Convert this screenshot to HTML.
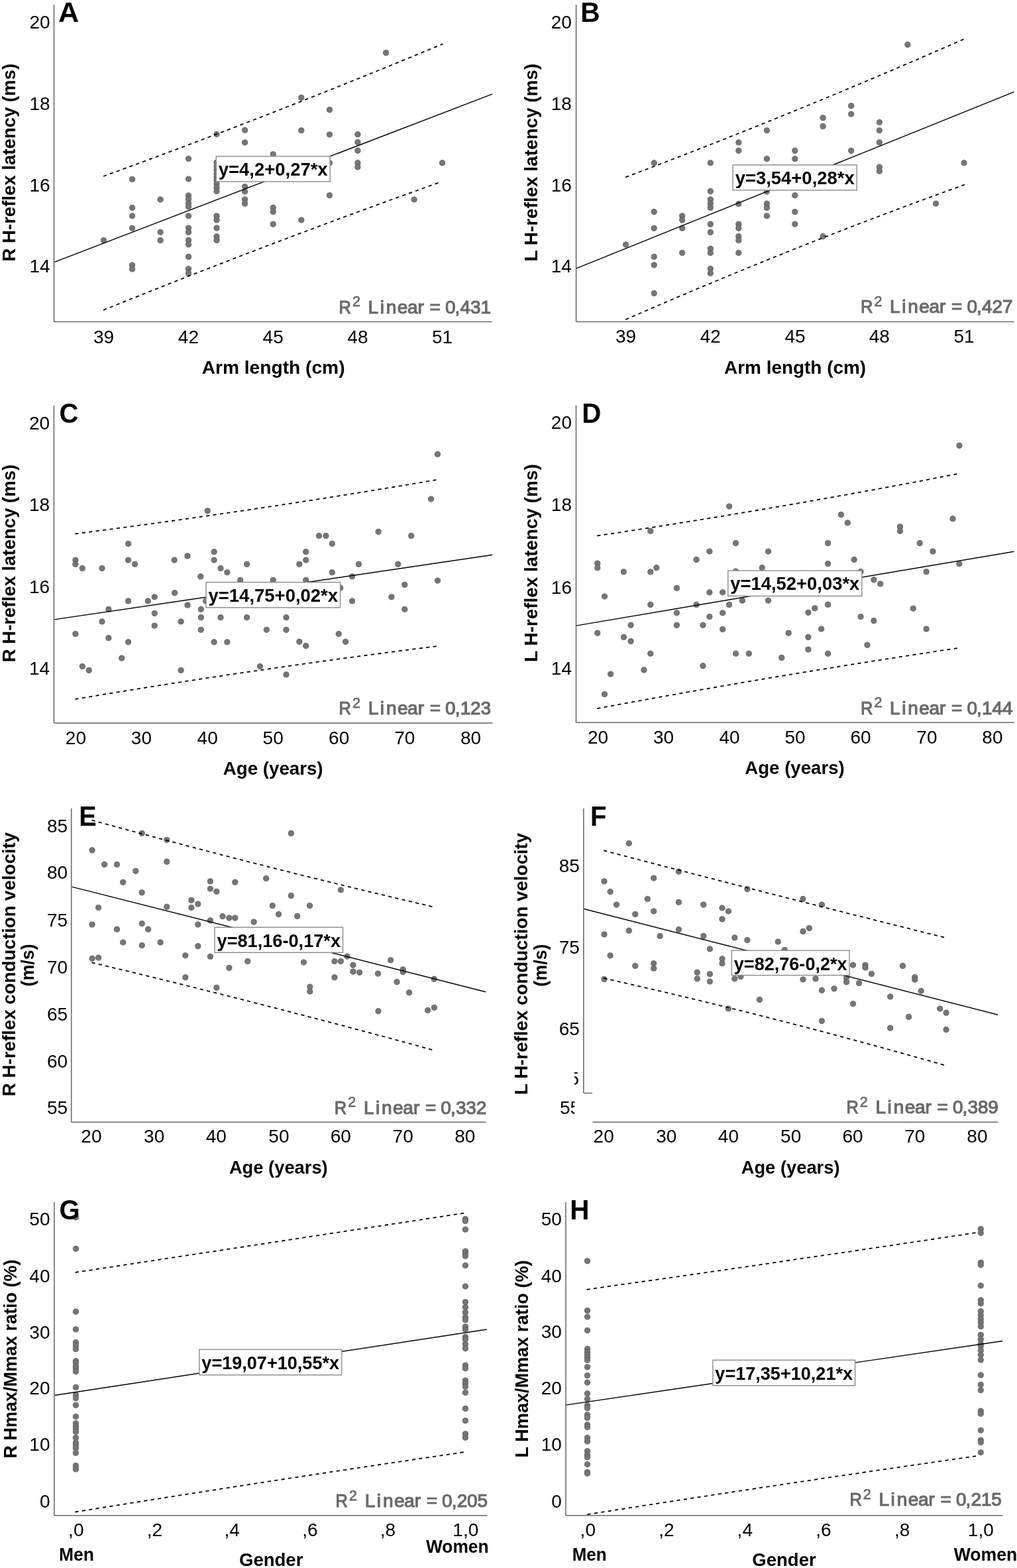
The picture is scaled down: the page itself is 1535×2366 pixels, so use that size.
<!DOCTYPE html>
<html><head><meta charset="utf-8"><title>H-reflex regression plots</title>
<style>html,body{margin:0;padding:0;background:#fff;}svg{display:block}</style></head>
<body>
<svg width="1535" height="2366" viewBox="0 0 1535 2366" font-family="'Liberation Sans', Arial, sans-serif" fill="#000">
<rect width="1535" height="2366" fill="#fff"/>
<g id="pA">
<g fill="#767676" stroke="#5c5c5c" stroke-width="0.9">
<circle cx="156.5" cy="362.7" r="4.1"/>
<circle cx="199.6" cy="270.5" r="4.1"/>
<circle cx="199.6" cy="313.4" r="4.1"/>
<circle cx="199.6" cy="325.8" r="4.1"/>
<circle cx="199.6" cy="344.3" r="4.1"/>
<circle cx="199.6" cy="400.0" r="4.1"/>
<circle cx="199.6" cy="406.0" r="4.1"/>
<circle cx="242.1" cy="301.0" r="4.1"/>
<circle cx="242.1" cy="350.3" r="4.1"/>
<circle cx="242.1" cy="362.7" r="4.1"/>
<circle cx="284.5" cy="239.6" r="4.1"/>
<circle cx="284.5" cy="270.1" r="4.1"/>
<circle cx="284.5" cy="295.0" r="4.1"/>
<circle cx="284.5" cy="300.6" r="4.1"/>
<circle cx="284.5" cy="306.7" r="4.1"/>
<circle cx="284.5" cy="311.9" r="4.1"/>
<circle cx="284.5" cy="325.9" r="4.1"/>
<circle cx="284.5" cy="344.0" r="4.1"/>
<circle cx="284.5" cy="350.4" r="4.1"/>
<circle cx="284.5" cy="362.5" r="4.1"/>
<circle cx="284.5" cy="368.9" r="4.1"/>
<circle cx="284.5" cy="387.4" r="4.1"/>
<circle cx="284.5" cy="405.8" r="4.1"/>
<circle cx="284.5" cy="412.2" r="4.1"/>
<circle cx="327.0" cy="202.5" r="4.1"/>
<circle cx="327.0" cy="245.3" r="4.1"/>
<circle cx="327.0" cy="251.0" r="4.1"/>
<circle cx="327.0" cy="256.5" r="4.1"/>
<circle cx="327.0" cy="262.0" r="4.1"/>
<circle cx="327.0" cy="267.0" r="4.1"/>
<circle cx="327.0" cy="272.0" r="4.1"/>
<circle cx="327.0" cy="277.4" r="4.1"/>
<circle cx="327.0" cy="283.0" r="4.1"/>
<circle cx="327.0" cy="288.6" r="4.1"/>
<circle cx="327.0" cy="325.9" r="4.1"/>
<circle cx="327.0" cy="332.0" r="4.1"/>
<circle cx="327.0" cy="344.0" r="4.1"/>
<circle cx="327.0" cy="356.8" r="4.1"/>
<circle cx="327.0" cy="362.5" r="4.1"/>
<circle cx="369.6" cy="196.3" r="4.1"/>
<circle cx="369.6" cy="215.0" r="4.1"/>
<circle cx="369.6" cy="281.7" r="4.1"/>
<circle cx="369.6" cy="289.0" r="4.1"/>
<circle cx="369.6" cy="301.0" r="4.1"/>
<circle cx="369.6" cy="307.3" r="4.1"/>
<circle cx="412.2" cy="232.8" r="4.1"/>
<circle cx="412.2" cy="313.4" r="4.1"/>
<circle cx="412.2" cy="319.6" r="4.1"/>
<circle cx="412.2" cy="338.2" r="4.1"/>
<circle cx="454.8" cy="147.3" r="4.1"/>
<circle cx="454.8" cy="196.8" r="4.1"/>
<circle cx="454.8" cy="332.0" r="4.1"/>
<circle cx="497.4" cy="165.6" r="4.1"/>
<circle cx="497.4" cy="203.0" r="4.1"/>
<circle cx="497.4" cy="245.8" r="4.1"/>
<circle cx="497.4" cy="294.8" r="4.1"/>
<circle cx="539.9" cy="202.8" r="4.1"/>
<circle cx="539.9" cy="214.6" r="4.1"/>
<circle cx="539.9" cy="227.3" r="4.1"/>
<circle cx="539.9" cy="245.8" r="4.1"/>
<circle cx="539.9" cy="252.0" r="4.1"/>
<circle cx="582.5" cy="79.7" r="4.1"/>
<circle cx="625.1" cy="301.0" r="4.1"/>
<circle cx="667.5" cy="245.8" r="4.1"/>
</g>
<path d="M81.7,395.6 L743.2,141.9" stroke="#000" stroke-width="1.45" fill="none"/>
<path d="M156.0,266.0 Q412.2,172.9 668.4,66.3" stroke="#000" stroke-width="1.8" fill="none" stroke-dasharray="5.2 5.3"/>
<path d="M156.0,467.9 Q409.4,365.5 662.7,275.5" stroke="#000" stroke-width="1.8" fill="none" stroke-dasharray="5.2 5.3"/>
<path d="M81.5,6.9 L81.5,485.5" stroke="#676767" stroke-width="1.55" fill="none"/>
<path d="M81.5,485.5 L742.8,485.5" stroke="#676767" stroke-width="1.55" fill="none"/>
<text x="75.6" y="42.7" text-anchor="end" font-size="28.0">20</text>
<text x="75.6" y="165.6" text-anchor="end" font-size="28.0">18</text>
<text x="75.6" y="289.1" text-anchor="end" font-size="28.0">16</text>
<text x="75.6" y="411.1" text-anchor="end" font-size="28.0">14</text>
<text x="156.5" y="517.8" text-anchor="middle" font-size="28.0">39</text>
<text x="284.4" y="517.8" text-anchor="middle" font-size="28.0">42</text>
<text x="412.2" y="517.8" text-anchor="middle" font-size="28.0">45</text>
<text x="539.9" y="517.8" text-anchor="middle" font-size="28.0">48</text>
<text x="667.5" y="517.8" text-anchor="middle" font-size="28.0">51</text>
<text x="412.6" y="564.0" text-anchor="middle" font-size="27.7" font-weight="bold" textLength="215.9" lengthAdjust="spacingAndGlyphs">Arm length (cm)</text>
<text transform="translate(23.4,245.2) rotate(-90)" x="0" y="0" text-anchor="middle" font-size="27.7" font-weight="bold" textLength="298.6" lengthAdjust="spacingAndGlyphs">R H-reflex latency (ms)</text>
<text transform="translate(88.00,32.70) scale(1.01,1)" font-size="42.8" font-weight="bold">A</text>
<rect x="326.3" y="235.9" width="171.9" height="38.1" fill="#fff" stroke="#8a8a8a" stroke-width="1.4"/>
<text x="412.2" y="265.2" text-anchor="middle" font-size="27.5" font-weight="bold" textLength="164.9" lengthAdjust="spacingAndGlyphs">y=4,2+0,27*x</text>
<g fill="#6a6a6a" stroke="#6a6a6a" stroke-width="1.15">
<text transform="translate(511.50,472.90) scale(0.9,1)" font-size="28.3">R</text>
<text x="531.9" y="462.3" font-size="21.5" stroke-width="0.75">2</text>
<text x="555.6 573.7 582.8 599.8 615.0 630.6 648.6" y="472.90" font-size="28">Linear=</text>
<text x="672.0 686.6 694.6 710.0 725.4" y="472.90" font-size="28">0,431</text>
</g>
</g>
<g id="pB">
<g fill="#767676" stroke="#5c5c5c" stroke-width="0.9">
<circle cx="944.6" cy="369.1" r="4.1"/>
<circle cx="987.2" cy="245.8" r="4.1"/>
<circle cx="987.2" cy="319.6" r="4.1"/>
<circle cx="987.2" cy="344.3" r="4.1"/>
<circle cx="987.2" cy="387.4" r="4.1"/>
<circle cx="987.2" cy="399.8" r="4.1"/>
<circle cx="987.2" cy="442.6" r="4.1"/>
<circle cx="1029.7" cy="325.8" r="4.1"/>
<circle cx="1029.7" cy="332.0" r="4.1"/>
<circle cx="1029.7" cy="344.3" r="4.1"/>
<circle cx="1029.7" cy="381.5" r="4.1"/>
<circle cx="1072.3" cy="245.8" r="4.1"/>
<circle cx="1072.3" cy="288.6" r="4.1"/>
<circle cx="1072.3" cy="301.0" r="4.1"/>
<circle cx="1072.3" cy="307.2" r="4.1"/>
<circle cx="1072.3" cy="313.4" r="4.1"/>
<circle cx="1072.3" cy="338.2" r="4.1"/>
<circle cx="1072.3" cy="350.5" r="4.1"/>
<circle cx="1072.3" cy="375.3" r="4.1"/>
<circle cx="1072.3" cy="381.5" r="4.1"/>
<circle cx="1072.3" cy="405.5" r="4.1"/>
<circle cx="1072.3" cy="412.2" r="4.1"/>
<circle cx="1114.8" cy="214.9" r="4.1"/>
<circle cx="1114.8" cy="227.3" r="4.1"/>
<circle cx="1114.8" cy="307.7" r="4.1"/>
<circle cx="1114.8" cy="338.2" r="4.1"/>
<circle cx="1114.8" cy="344.3" r="4.1"/>
<circle cx="1114.8" cy="356.7" r="4.1"/>
<circle cx="1114.8" cy="362.7" r="4.1"/>
<circle cx="1114.8" cy="381.5" r="4.1"/>
<circle cx="1157.4" cy="196.8" r="4.1"/>
<circle cx="1157.4" cy="239.7" r="4.1"/>
<circle cx="1157.4" cy="289.1" r="4.1"/>
<circle cx="1157.4" cy="307.2" r="4.1"/>
<circle cx="1157.4" cy="313.4" r="4.1"/>
<circle cx="1157.4" cy="325.8" r="4.1"/>
<circle cx="1199.8" cy="227.3" r="4.1"/>
<circle cx="1199.8" cy="239.7" r="4.1"/>
<circle cx="1199.8" cy="294.8" r="4.1"/>
<circle cx="1199.8" cy="319.6" r="4.1"/>
<circle cx="1199.8" cy="338.2" r="4.1"/>
<circle cx="1242.1" cy="177.8" r="4.1"/>
<circle cx="1242.1" cy="190.6" r="4.1"/>
<circle cx="1242.1" cy="356.7" r="4.1"/>
<circle cx="1284.7" cy="159.7" r="4.1"/>
<circle cx="1284.7" cy="172.1" r="4.1"/>
<circle cx="1284.7" cy="227.3" r="4.1"/>
<circle cx="1327.3" cy="184.5" r="4.1"/>
<circle cx="1327.3" cy="196.8" r="4.1"/>
<circle cx="1327.3" cy="214.9" r="4.1"/>
<circle cx="1327.3" cy="252.0" r="4.1"/>
<circle cx="1327.3" cy="258.2" r="4.1"/>
<circle cx="1369.9" cy="67.3" r="4.1"/>
<circle cx="1412.5" cy="307.2" r="4.1"/>
<circle cx="1455.1" cy="245.8" r="4.1"/>
</g>
<path d="M869.6,405.1 L1530.6,138.6" stroke="#000" stroke-width="1.45" fill="none"/>
<path d="M944.2,267.4 Q1199.7,171.1 1455.1,58.9" stroke="#000" stroke-width="1.8" fill="none" stroke-dasharray="5.2 5.3"/>
<path d="M944.2,482.2 Q1200.0,370.5 1455.8,278.7" stroke="#000" stroke-width="1.8" fill="none" stroke-dasharray="5.2 5.3"/>
<path d="M869.6,6.9 L869.6,485.4" stroke="#676767" stroke-width="1.55" fill="none"/>
<path d="M869.6,485.4 L1530.6,485.4" stroke="#676767" stroke-width="1.55" fill="none"/>
<text x="862.9" y="43.3" text-anchor="end" font-size="28.0">20</text>
<text x="862.9" y="165.9" text-anchor="end" font-size="28.0">18</text>
<text x="862.9" y="288.7" text-anchor="end" font-size="28.0">16</text>
<text x="862.9" y="411.1" text-anchor="end" font-size="28.0">14</text>
<text x="944.6" y="517.4" text-anchor="middle" font-size="28.0">39</text>
<text x="1072.3" y="517.4" text-anchor="middle" font-size="28.0">42</text>
<text x="1200.0" y="517.4" text-anchor="middle" font-size="28.0">45</text>
<text x="1327.3" y="517.4" text-anchor="middle" font-size="28.0">48</text>
<text x="1455.1" y="517.4" text-anchor="middle" font-size="28.0">51</text>
<text x="1200.1" y="563.8" text-anchor="middle" font-size="27.7" font-weight="bold" textLength="214.1" lengthAdjust="spacingAndGlyphs">Arm length (cm)</text>
<text transform="translate(811.3,245.2) rotate(-90)" x="0" y="0" text-anchor="middle" font-size="27.7" font-weight="bold" textLength="298.6" lengthAdjust="spacingAndGlyphs">L H-reflex latency (ms)</text>
<text transform="translate(876.25,32.70) scale(0.95,1)" font-size="42.8" font-weight="bold">B</text>
<rect x="1106.1" y="248.9" width="187.1" height="38.1" fill="#fff" stroke="#8a8a8a" stroke-width="1.4"/>
<text x="1199.7" y="278.2" text-anchor="middle" font-size="27.5" font-weight="bold" textLength="180.1" lengthAdjust="spacingAndGlyphs">y=3,54+0,28*x</text>
<g fill="#6a6a6a" stroke="#6a6a6a" stroke-width="1.15">
<text transform="translate(1299.00,472.10) scale(0.9,1)" font-size="28.3">R</text>
<text x="1319.4" y="461.5" font-size="21.5" stroke-width="0.75">2</text>
<text x="1343.1 1361.2 1370.3 1387.3 1402.5 1418.1 1436.1" y="472.10" font-size="28">Linear=</text>
<text x="1459.5 1474.1 1482.1 1497.5 1512.9" y="472.10" font-size="28">0,427</text>
</g>
</g>
<g id="pC">
<g fill="#767676" stroke="#5c5c5c" stroke-width="0.9">
<circle cx="660.5" cy="685.4" r="4.1"/>
<circle cx="650.6" cy="753.0" r="4.1"/>
<circle cx="313.2" cy="770.8" r="4.1"/>
<circle cx="481.5" cy="808.5" r="4.1"/>
<circle cx="491.9" cy="808.5" r="4.1"/>
<circle cx="571.1" cy="802.3" r="4.1"/>
<circle cx="620.7" cy="808.5" r="4.1"/>
<circle cx="193.6" cy="820.4" r="4.1"/>
<circle cx="501.3" cy="820.4" r="4.1"/>
<circle cx="323.1" cy="832.7" r="4.1"/>
<circle cx="461.7" cy="832.7" r="4.1"/>
<circle cx="283.0" cy="838.9" r="4.1"/>
<circle cx="113.9" cy="845.1" r="4.1"/>
<circle cx="193.6" cy="845.1" r="4.1"/>
<circle cx="263.2" cy="845.1" r="4.1"/>
<circle cx="323.1" cy="845.1" r="4.1"/>
<circle cx="461.7" cy="845.1" r="4.1"/>
<circle cx="113.9" cy="851.3" r="4.1"/>
<circle cx="203.5" cy="851.3" r="4.1"/>
<circle cx="372.6" cy="851.3" r="4.1"/>
<circle cx="451.8" cy="851.3" r="4.1"/>
<circle cx="541.4" cy="851.3" r="4.1"/>
<circle cx="600.8" cy="851.3" r="4.1"/>
<circle cx="124.3" cy="857.5" r="4.1"/>
<circle cx="154.0" cy="857.5" r="4.1"/>
<circle cx="333.0" cy="857.5" r="4.1"/>
<circle cx="342.9" cy="863.7" r="4.1"/>
<circle cx="501.3" cy="863.7" r="4.1"/>
<circle cx="302.8" cy="869.9" r="4.1"/>
<circle cx="531.5" cy="869.9" r="4.1"/>
<circle cx="362.7" cy="875.3" r="4.1"/>
<circle cx="412.2" cy="875.3" r="4.1"/>
<circle cx="461.7" cy="875.3" r="4.1"/>
<circle cx="660.5" cy="876.1" r="4.1"/>
<circle cx="610.8" cy="882.3" r="4.1"/>
<circle cx="513.7" cy="887.1" r="4.1"/>
<circle cx="263.7" cy="894.6" r="4.1"/>
<circle cx="233.2" cy="900.8" r="4.1"/>
<circle cx="590.9" cy="900.8" r="4.1"/>
<circle cx="193.6" cy="906.9" r="4.1"/>
<circle cx="223.3" cy="906.9" r="4.1"/>
<circle cx="310.7" cy="906.9" r="4.1"/>
<circle cx="531.5" cy="906.9" r="4.1"/>
<circle cx="283.0" cy="913.1" r="4.1"/>
<circle cx="163.9" cy="919.3" r="4.1"/>
<circle cx="303.3" cy="919.3" r="4.1"/>
<circle cx="610.8" cy="919.3" r="4.1"/>
<circle cx="233.2" cy="925.5" r="4.1"/>
<circle cx="303.3" cy="931.7" r="4.1"/>
<circle cx="333.0" cy="931.7" r="4.1"/>
<circle cx="372.6" cy="931.7" r="4.1"/>
<circle cx="432.0" cy="931.7" r="4.1"/>
<circle cx="154.0" cy="937.9" r="4.1"/>
<circle cx="273.1" cy="937.9" r="4.1"/>
<circle cx="233.2" cy="944.1" r="4.1"/>
<circle cx="303.3" cy="950.3" r="4.1"/>
<circle cx="402.3" cy="950.3" r="4.1"/>
<circle cx="432.0" cy="950.3" r="4.1"/>
<circle cx="113.9" cy="956.5" r="4.1"/>
<circle cx="511.2" cy="956.5" r="4.1"/>
<circle cx="163.9" cy="962.7" r="4.1"/>
<circle cx="193.6" cy="968.8" r="4.1"/>
<circle cx="323.1" cy="968.8" r="4.1"/>
<circle cx="342.9" cy="968.8" r="4.1"/>
<circle cx="451.8" cy="968.3" r="4.1"/>
<circle cx="521.6" cy="968.3" r="4.1"/>
<circle cx="461.7" cy="974.5" r="4.1"/>
<circle cx="183.7" cy="993.1" r="4.1"/>
<circle cx="124.3" cy="1005.5" r="4.1"/>
<circle cx="392.4" cy="1005.5" r="4.1"/>
<circle cx="134.2" cy="1011.4" r="4.1"/>
<circle cx="273.1" cy="1011.4" r="4.1"/>
<circle cx="432.0" cy="1017.9" r="4.1"/>
</g>
<path d="M81.7,934.9 L743.2,837.2" stroke="#000" stroke-width="1.45" fill="none"/>
<path d="M113.4,805.5 Q386.6,770.5 659.8,723.8" stroke="#000" stroke-width="1.8" fill="none" stroke-dasharray="5.2 5.3"/>
<path d="M113.4,1055.0 Q386.6,1009.1 659.8,975.0" stroke="#000" stroke-width="1.8" fill="none" stroke-dasharray="5.2 5.3"/>
<path d="M81.4,612.0 L81.4,1091.0" stroke="#676767" stroke-width="1.55" fill="none"/>
<path d="M81.4,1091.0 L743.2,1091.0" stroke="#676767" stroke-width="1.55" fill="none"/>
<text x="75.1" y="647.9" text-anchor="end" font-size="28.0">20</text>
<text x="75.1" y="770.9" text-anchor="end" font-size="28.0">18</text>
<text x="75.1" y="895.4" text-anchor="end" font-size="28.0">16</text>
<text x="75.1" y="1018.4" text-anchor="end" font-size="28.0">14</text>
<text x="114.4" y="1122.8" text-anchor="middle" font-size="28.0">20</text>
<text x="213.4" y="1122.8" text-anchor="middle" font-size="28.0">30</text>
<text x="313.2" y="1122.8" text-anchor="middle" font-size="28.0">40</text>
<text x="412.2" y="1122.8" text-anchor="middle" font-size="28.0">50</text>
<text x="511.7" y="1122.8" text-anchor="middle" font-size="28.0">60</text>
<text x="610.8" y="1122.8" text-anchor="middle" font-size="28.0">70</text>
<text x="710.5" y="1122.8" text-anchor="middle" font-size="28.0">80</text>
<text x="412.2" y="1168.5" text-anchor="middle" font-size="27.7" font-weight="bold" textLength="150.8" lengthAdjust="spacingAndGlyphs">Age (years)</text>
<text transform="translate(23.4,850.0) rotate(-90)" x="0" y="0" text-anchor="middle" font-size="27.7" font-weight="bold" textLength="298.6" lengthAdjust="spacingAndGlyphs">R H-reflex latency (ms)</text>
<text transform="translate(89.40,638.20) scale(0.935,1)" font-size="42.8" font-weight="bold">C</text>
<rect x="311.0" y="878.6" width="202.6" height="38.2" fill="#fff" stroke="#8a8a8a" stroke-width="1.4"/>
<text x="412.3" y="907.9" text-anchor="middle" font-size="27.5" font-weight="bold" textLength="195.6" lengthAdjust="spacingAndGlyphs">y=14,75+0,02*x</text>
<g fill="#6a6a6a" stroke="#6a6a6a" stroke-width="1.15">
<text transform="translate(511.60,1078.10) scale(0.9,1)" font-size="28.3">R</text>
<text x="532.0" y="1067.5" font-size="21.5" stroke-width="0.75">2</text>
<text x="555.7 573.8 582.9 599.9 615.1 630.7 648.7" y="1078.10" font-size="28">Linear=</text>
<text x="672.1 686.7 694.7 710.1 725.5" y="1078.10" font-size="28">0,123</text>
</g>
</g>
<g id="pD">
<g fill="#767676" stroke="#5c5c5c" stroke-width="0.9">
<circle cx="1447.9" cy="672.3" r="4.1"/>
<circle cx="1100.6" cy="764.1" r="4.1"/>
<circle cx="1269.4" cy="776.5" r="4.1"/>
<circle cx="1438.0" cy="782.7" r="4.1"/>
<circle cx="1279.3" cy="788.9" r="4.1"/>
<circle cx="1358.5" cy="794.8" r="4.1"/>
<circle cx="981.8" cy="801.3" r="4.1"/>
<circle cx="1358.5" cy="801.3" r="4.1"/>
<circle cx="1110.5" cy="819.6" r="4.1"/>
<circle cx="1249.6" cy="819.6" r="4.1"/>
<circle cx="1388.2" cy="819.6" r="4.1"/>
<circle cx="1070.9" cy="832.0" r="4.1"/>
<circle cx="1159.5" cy="832.0" r="4.1"/>
<circle cx="1408.0" cy="832.0" r="4.1"/>
<circle cx="1051.1" cy="844.4" r="4.1"/>
<circle cx="1289.2" cy="844.4" r="4.1"/>
<circle cx="901.8" cy="850.1" r="4.1"/>
<circle cx="1249.6" cy="850.6" r="4.1"/>
<circle cx="1447.9" cy="850.6" r="4.1"/>
<circle cx="901.8" cy="856.7" r="4.1"/>
<circle cx="990.9" cy="856.7" r="4.1"/>
<circle cx="1150.2" cy="856.6" r="4.1"/>
<circle cx="941.4" cy="862.9" r="4.1"/>
<circle cx="981.8" cy="862.9" r="4.1"/>
<circle cx="1110.5" cy="862.0" r="4.1"/>
<circle cx="1299.1" cy="862.5" r="4.1"/>
<circle cx="1398.1" cy="862.7" r="4.1"/>
<circle cx="1318.9" cy="874.8" r="4.1"/>
<circle cx="1328.8" cy="881.0" r="4.1"/>
<circle cx="1021.4" cy="887.4" r="4.1"/>
<circle cx="1070.9" cy="893.8" r="4.1"/>
<circle cx="1090.7" cy="893.8" r="4.1"/>
<circle cx="912.5" cy="900.0" r="4.1"/>
<circle cx="1120.4" cy="906.2" r="4.1"/>
<circle cx="1159.5" cy="906.2" r="4.1"/>
<circle cx="981.8" cy="912.4" r="4.1"/>
<circle cx="1051.1" cy="912.4" r="4.1"/>
<circle cx="1100.6" cy="912.4" r="4.1"/>
<circle cx="1249.6" cy="912.2" r="4.1"/>
<circle cx="1229.8" cy="917.8" r="4.1"/>
<circle cx="1378.3" cy="918.1" r="4.1"/>
<circle cx="1219.9" cy="924.3" r="4.1"/>
<circle cx="1021.4" cy="924.8" r="4.1"/>
<circle cx="1090.7" cy="924.8" r="4.1"/>
<circle cx="1070.9" cy="930.5" r="4.1"/>
<circle cx="1299.1" cy="930.5" r="4.1"/>
<circle cx="1318.9" cy="936.7" r="4.1"/>
<circle cx="952.1" cy="943.3" r="4.1"/>
<circle cx="1021.4" cy="943.3" r="4.1"/>
<circle cx="1061.0" cy="943.3" r="4.1"/>
<circle cx="1239.7" cy="949.0" r="4.1"/>
<circle cx="1398.1" cy="949.0" r="4.1"/>
<circle cx="1090.7" cy="949.5" r="4.1"/>
<circle cx="901.8" cy="955.2" r="4.1"/>
<circle cx="1190.2" cy="955.2" r="4.1"/>
<circle cx="941.4" cy="961.4" r="4.1"/>
<circle cx="1219.9" cy="961.4" r="4.1"/>
<circle cx="952.1" cy="967.6" r="4.1"/>
<circle cx="1309.0" cy="973.3" r="4.1"/>
<circle cx="1219.9" cy="980.0" r="4.1"/>
<circle cx="981.8" cy="986.2" r="4.1"/>
<circle cx="1110.5" cy="986.2" r="4.1"/>
<circle cx="1130.3" cy="986.2" r="4.1"/>
<circle cx="1249.6" cy="986.2" r="4.1"/>
<circle cx="1179.8" cy="992.4" r="4.1"/>
<circle cx="1061.0" cy="1004.7" r="4.1"/>
<circle cx="971.9" cy="1010.9" r="4.1"/>
<circle cx="921.6" cy="1017.1" r="4.1"/>
<circle cx="912.5" cy="1047.6" r="4.1"/>
</g>
<path d="M869.6,944.1 L1530.6,832.2" stroke="#000" stroke-width="1.45" fill="none"/>
<path d="M901.3,808.5 Q1173.2,767.8 1445.2,715.1" stroke="#000" stroke-width="1.8" fill="none" stroke-dasharray="5.2 5.3"/>
<path d="M901.3,1069.1 Q1173.2,1018.6 1445.2,978.0" stroke="#000" stroke-width="1.8" fill="none" stroke-dasharray="5.2 5.3"/>
<path d="M869.5,611.8 L869.5,1090.2" stroke="#676767" stroke-width="1.55" fill="none"/>
<path d="M869.5,1090.2 L1530.6,1090.2" stroke="#676767" stroke-width="1.55" fill="none"/>
<text x="863.0" y="647.3" text-anchor="end" font-size="28.0">20</text>
<text x="863.0" y="770.8" text-anchor="end" font-size="28.0">18</text>
<text x="863.0" y="895.8" text-anchor="end" font-size="28.0">16</text>
<text x="863.0" y="1018.4" text-anchor="end" font-size="28.0">14</text>
<text x="902.6" y="1121.8" text-anchor="middle" font-size="28.0">20</text>
<text x="1001.6" y="1121.8" text-anchor="middle" font-size="28.0">30</text>
<text x="1101.1" y="1121.8" text-anchor="middle" font-size="28.0">40</text>
<text x="1200.0" y="1121.8" text-anchor="middle" font-size="28.0">50</text>
<text x="1299.1" y="1121.8" text-anchor="middle" font-size="28.0">60</text>
<text x="1398.9" y="1121.8" text-anchor="middle" font-size="28.0">70</text>
<text x="1497.9" y="1121.8" text-anchor="middle" font-size="28.0">80</text>
<text x="1199.5" y="1167.7" text-anchor="middle" font-size="27.7" font-weight="bold" textLength="150.4" lengthAdjust="spacingAndGlyphs">Age (years)</text>
<text transform="translate(811.3,849.6) rotate(-90)" x="0" y="0" text-anchor="middle" font-size="27.7" font-weight="bold" textLength="298.6" lengthAdjust="spacingAndGlyphs">L H-reflex latency (ms)</text>
<text transform="translate(878.17,638.30) scale(0.945,1)" font-size="42.8" font-weight="bold">D</text>
<rect x="1098.8" y="861.1" width="202.1" height="38.3" fill="#fff" stroke="#8a8a8a" stroke-width="1.4"/>
<text x="1199.8" y="890.4" text-anchor="middle" font-size="27.5" font-weight="bold" textLength="195.1" lengthAdjust="spacingAndGlyphs">y=14,52+0,03*x</text>
<g fill="#6a6a6a" stroke="#6a6a6a" stroke-width="1.15">
<text transform="translate(1299.00,1077.60) scale(0.9,1)" font-size="28.3">R</text>
<text x="1319.4" y="1067.0" font-size="21.5" stroke-width="0.75">2</text>
<text x="1343.1 1361.2 1370.3 1387.3 1402.5 1418.1 1436.1" y="1077.60" font-size="28">Linear=</text>
<text x="1459.5 1474.1 1482.1 1497.5 1512.9" y="1077.60" font-size="28">0,144</text>
</g>
</g>
<g id="pE">
<g fill="#767676" stroke="#5c5c5c" stroke-width="0.9">
<circle cx="214.2" cy="1257.4" r="4.1"/>
<circle cx="439.3" cy="1257.4" r="4.1"/>
<circle cx="251.8" cy="1267.3" r="4.1"/>
<circle cx="139.1" cy="1282.9" r="4.1"/>
<circle cx="157.7" cy="1304.4" r="4.1"/>
<circle cx="176.5" cy="1304.4" r="4.1"/>
<circle cx="251.8" cy="1300.2" r="4.1"/>
<circle cx="204.8" cy="1314.3" r="4.1"/>
<circle cx="401.7" cy="1325.5" r="4.1"/>
<circle cx="185.7" cy="1331.2" r="4.1"/>
<circle cx="317.4" cy="1329.9" r="4.1"/>
<circle cx="354.8" cy="1331.2" r="4.1"/>
<circle cx="317.4" cy="1341.1" r="4.1"/>
<circle cx="326.8" cy="1345.3" r="4.1"/>
<circle cx="514.3" cy="1342.8" r="4.1"/>
<circle cx="214.2" cy="1346.8" r="4.1"/>
<circle cx="439.3" cy="1351.5" r="4.1"/>
<circle cx="288.9" cy="1358.4" r="4.1"/>
<circle cx="298.8" cy="1364.1" r="4.1"/>
<circle cx="411.3" cy="1366.6" r="4.1"/>
<circle cx="467.5" cy="1366.6" r="4.1"/>
<circle cx="148.6" cy="1369.5" r="4.1"/>
<circle cx="251.8" cy="1368.3" r="4.1"/>
<circle cx="288.9" cy="1369.5" r="4.1"/>
<circle cx="420.5" cy="1379.5" r="4.1"/>
<circle cx="448.7" cy="1382.4" r="4.1"/>
<circle cx="336.0" cy="1382.7" r="4.1"/>
<circle cx="345.9" cy="1385.1" r="4.1"/>
<circle cx="354.8" cy="1385.1" r="4.1"/>
<circle cx="317.4" cy="1388.9" r="4.1"/>
<circle cx="383.1" cy="1391.1" r="4.1"/>
<circle cx="139.1" cy="1395.0" r="4.1"/>
<circle cx="214.2" cy="1393.6" r="4.1"/>
<circle cx="298.8" cy="1395.0" r="4.1"/>
<circle cx="176.5" cy="1402.2" r="4.1"/>
<circle cx="223.6" cy="1402.2" r="4.1"/>
<circle cx="185.7" cy="1422.0" r="4.1"/>
<circle cx="214.2" cy="1426.5" r="4.1"/>
<circle cx="242.1" cy="1422.0" r="4.1"/>
<circle cx="298.8" cy="1427.7" r="4.1"/>
<circle cx="279.8" cy="1441.8" r="4.1"/>
<circle cx="317.4" cy="1443.3" r="4.1"/>
<circle cx="524.0" cy="1443.1" r="4.1"/>
<circle cx="139.1" cy="1446.3" r="4.1"/>
<circle cx="148.6" cy="1445.1" r="4.1"/>
<circle cx="373.8" cy="1450.5" r="4.1"/>
<circle cx="458.4" cy="1452.0" r="4.1"/>
<circle cx="504.9" cy="1450.5" r="4.1"/>
<circle cx="514.3" cy="1450.5" r="4.1"/>
<circle cx="589.6" cy="1448.8" r="4.1"/>
<circle cx="532.9" cy="1456.2" r="4.1"/>
<circle cx="345.9" cy="1460.4" r="4.1"/>
<circle cx="608.2" cy="1462.9" r="4.1"/>
<circle cx="532.9" cy="1466.1" r="4.1"/>
<circle cx="608.2" cy="1466.6" r="4.1"/>
<circle cx="542.6" cy="1467.3" r="4.1"/>
<circle cx="570.5" cy="1469.1" r="4.1"/>
<circle cx="279.8" cy="1474.8" r="4.1"/>
<circle cx="504.9" cy="1474.8" r="4.1"/>
<circle cx="655.2" cy="1477.2" r="4.1"/>
<circle cx="599.0" cy="1481.7" r="4.1"/>
<circle cx="467.8" cy="1489.1" r="4.1"/>
<circle cx="326.8" cy="1490.3" r="4.1"/>
<circle cx="467.8" cy="1496.0" r="4.1"/>
<circle cx="617.6" cy="1497.7" r="4.1"/>
<circle cx="655.5" cy="1520.3" r="4.1"/>
<circle cx="645.6" cy="1524.5" r="4.1"/>
<circle cx="571.0" cy="1525.7" r="4.1"/>
</g>
<path d="M108.4,1338.1 L733.2,1496.7" stroke="#000" stroke-width="1.45" fill="none"/>
<path d="M138.6,1237.6 Q397.6,1308.7 656.5,1369.0" stroke="#000" stroke-width="1.8" fill="none" stroke-dasharray="5.2 5.3"/>
<path d="M138.6,1452.5 Q397.3,1514.0 656.0,1585.1" stroke="#000" stroke-width="1.8" fill="none" stroke-dasharray="5.2 5.3"/>
<path d="M107.7,1219.8 L107.7,1693.2" stroke="#676767" stroke-width="1.55" fill="none"/>
<path d="M107.7,1693.2 L733.2,1693.2" stroke="#676767" stroke-width="1.55" fill="none"/>
<text x="102.2" y="1255.7" text-anchor="end" font-size="28.0">85</text>
<text x="102.2" y="1326.2" text-anchor="end" font-size="28.0">80</text>
<text x="102.2" y="1398.0" text-anchor="end" font-size="28.0">75</text>
<text x="102.2" y="1468.6" text-anchor="end" font-size="28.0">70</text>
<text x="102.2" y="1540.1" text-anchor="end" font-size="28.0">65</text>
<text x="102.2" y="1610.6" text-anchor="end" font-size="28.0">60</text>
<text x="102.2" y="1680.9" text-anchor="end" font-size="28.0">55</text>
<text x="137.9" y="1724.1" text-anchor="middle" font-size="28.0">20</text>
<text x="232.7" y="1724.1" text-anchor="middle" font-size="28.0">30</text>
<text x="326.3" y="1724.1" text-anchor="middle" font-size="28.0">40</text>
<text x="420.9" y="1724.1" text-anchor="middle" font-size="28.0">50</text>
<text x="514.3" y="1724.1" text-anchor="middle" font-size="28.0">60</text>
<text x="608.2" y="1724.1" text-anchor="middle" font-size="28.0">70</text>
<text x="701.8" y="1724.1" text-anchor="middle" font-size="28.0">80</text>
<text x="420.3" y="1771.0" text-anchor="middle" font-size="27.7" font-weight="bold" textLength="148.8" lengthAdjust="spacingAndGlyphs">Age (years)</text>
<text transform="translate(22.9,1455.0) rotate(-90)" x="0" y="0" text-anchor="middle" font-size="27.7" font-weight="bold" textLength="398.3" lengthAdjust="spacingAndGlyphs">R H-reflex conduction velocity</text>
<text transform="translate(50.8,1456.4) rotate(-90)" x="0" y="0" text-anchor="middle" font-size="27.7" font-weight="bold" textLength="64.3" lengthAdjust="spacingAndGlyphs">(m/s)</text>
<text transform="translate(119.13,1246.30) scale(0.925,1)" font-size="42.8" font-weight="bold">E</text>
<rect x="324.0" y="1399.3" width="193.5" height="38.0" fill="#fff" stroke="#8a8a8a" stroke-width="1.4"/>
<text x="420.8" y="1428.6" text-anchor="middle" font-size="27.5" font-weight="bold" textLength="186.5" lengthAdjust="spacingAndGlyphs">y=81,16-0,17*x</text>
<g fill="#6a6a6a" stroke="#6a6a6a" stroke-width="1.15">
<text transform="translate(504.80,1680.70) scale(0.9,1)" font-size="28.3">R</text>
<text x="525.2" y="1670.1" font-size="21.5" stroke-width="0.75">2</text>
<text x="548.9 567.0 576.1 593.1 608.3 623.9 641.9" y="1680.70" font-size="28">Linear=</text>
<text x="665.3 679.9 687.9 703.3 718.7" y="1680.70" font-size="28">0,332</text>
</g>
</g>
<g id="pF">
<g fill="#767676" stroke="#5c5c5c" stroke-width="0.9">
<circle cx="949.3" cy="1272.5" r="4.1"/>
<circle cx="1024.4" cy="1315.1" r="4.1"/>
<circle cx="986.7" cy="1325.0" r="4.1"/>
<circle cx="912.0" cy="1329.9" r="4.1"/>
<circle cx="1127.9" cy="1341.6" r="4.1"/>
<circle cx="921.1" cy="1345.5" r="4.1"/>
<circle cx="977.3" cy="1356.4" r="4.1"/>
<circle cx="1212.0" cy="1356.4" r="4.1"/>
<circle cx="1024.4" cy="1361.4" r="4.1"/>
<circle cx="930.5" cy="1365.1" r="4.1"/>
<circle cx="1061.8" cy="1365.1" r="4.1"/>
<circle cx="1240.4" cy="1365.1" r="4.1"/>
<circle cx="1090.0" cy="1370.0" r="4.1"/>
<circle cx="1099.4" cy="1375.0" r="4.1"/>
<circle cx="986.7" cy="1375.0" r="4.1"/>
<circle cx="958.8" cy="1379.5" r="4.1"/>
<circle cx="1090.0" cy="1386.9" r="4.1"/>
<circle cx="1221.4" cy="1400.5" r="4.1"/>
<circle cx="1024.4" cy="1402.5" r="4.1"/>
<circle cx="949.3" cy="1404.2" r="4.1"/>
<circle cx="1212.0" cy="1405.4" r="4.1"/>
<circle cx="912.0" cy="1409.9" r="4.1"/>
<circle cx="996.1" cy="1412.4" r="4.1"/>
<circle cx="1061.8" cy="1412.4" r="4.1"/>
<circle cx="1108.8" cy="1414.9" r="4.1"/>
<circle cx="1127.9" cy="1418.6" r="4.1"/>
<circle cx="1174.3" cy="1421.0" r="4.1"/>
<circle cx="1071.4" cy="1431.9" r="4.1"/>
<circle cx="1184.2" cy="1433.4" r="4.1"/>
<circle cx="921.1" cy="1441.8" r="4.1"/>
<circle cx="1090.0" cy="1446.8" r="4.1"/>
<circle cx="1090.0" cy="1453.7" r="4.1"/>
<circle cx="986.7" cy="1453.7" r="4.1"/>
<circle cx="1287.5" cy="1456.2" r="4.1"/>
<circle cx="1306.0" cy="1456.2" r="4.1"/>
<circle cx="1306.0" cy="1460.0" r="4.1"/>
<circle cx="1362.5" cy="1457.4" r="4.1"/>
<circle cx="958.8" cy="1457.4" r="4.1"/>
<circle cx="986.7" cy="1461.2" r="4.1"/>
<circle cx="1052.3" cy="1467.3" r="4.1"/>
<circle cx="1315.4" cy="1469.5" r="4.1"/>
<circle cx="1071.4" cy="1469.8" r="4.1"/>
<circle cx="1118.0" cy="1473.6" r="4.1"/>
<circle cx="1380.8" cy="1474.5" r="4.1"/>
<circle cx="1380.8" cy="1478.2" r="4.1"/>
<circle cx="1052.3" cy="1476.8" r="4.1"/>
<circle cx="1108.8" cy="1476.8" r="4.1"/>
<circle cx="1231.0" cy="1476.8" r="4.1"/>
<circle cx="1277.6" cy="1475.5" r="4.1"/>
<circle cx="912.0" cy="1477.5" r="4.1"/>
<circle cx="1212.0" cy="1478.0" r="4.1"/>
<circle cx="1071.4" cy="1481.0" r="4.1"/>
<circle cx="1277.6" cy="1481.8" r="4.1"/>
<circle cx="1296.6" cy="1483.5" r="4.1"/>
<circle cx="1259.0" cy="1491.8" r="4.1"/>
<circle cx="1240.4" cy="1494.3" r="4.1"/>
<circle cx="1390.2" cy="1495.3" r="4.1"/>
<circle cx="1343.7" cy="1503.9" r="4.1"/>
<circle cx="1146.4" cy="1508.4" r="4.1"/>
<circle cx="1287.5" cy="1514.6" r="4.1"/>
<circle cx="1418.7" cy="1522.0" r="4.1"/>
<circle cx="1099.4" cy="1522.0" r="4.1"/>
<circle cx="1428.1" cy="1528.2" r="4.1"/>
<circle cx="1371.6" cy="1534.4" r="4.1"/>
<circle cx="1240.4" cy="1540.6" r="4.1"/>
<circle cx="1343.7" cy="1551.2" r="4.1"/>
<circle cx="1428.1" cy="1553.7" r="4.1"/>
</g>
<path d="M881.5,1371.5 L1506.1,1531.2" stroke="#000" stroke-width="1.45" fill="none"/>
<path d="M911.2,1283.4 Q1170.2,1351.3 1429.1,1415.4" stroke="#000" stroke-width="1.8" fill="none" stroke-dasharray="5.2 5.3"/>
<path d="M911.2,1476.0 Q1169.9,1534.1 1428.6,1608.2" stroke="#000" stroke-width="1.8" fill="none" stroke-dasharray="5.2 5.3"/>
<path d="M880.8,1219.8 L880.8,1649.5" stroke="#676767" stroke-width="1.55" fill="none"/>
<path d="M894.6,1693.2 L1506.1,1693.2" stroke="#676767" stroke-width="1.55" fill="none"/>
<text x="874.8" y="1316.3" text-anchor="end" font-size="28.0">85</text>
<text x="874.8" y="1438.9" text-anchor="end" font-size="28.0">75</text>
<text x="874.8" y="1561.6" text-anchor="end" font-size="28.0">65</text>
<text x="911.2" y="1724.1" text-anchor="middle" font-size="28.0">20</text>
<text x="1005.8" y="1724.1" text-anchor="middle" font-size="28.0">30</text>
<text x="1099.4" y="1724.1" text-anchor="middle" font-size="28.0">40</text>
<text x="1193.7" y="1724.1" text-anchor="middle" font-size="28.0">50</text>
<text x="1287.0" y="1724.1" text-anchor="middle" font-size="28.0">60</text>
<text x="1380.8" y="1724.1" text-anchor="middle" font-size="28.0">70</text>
<text x="1474.9" y="1724.1" text-anchor="middle" font-size="28.0">80</text>
<text x="1193.1" y="1770.5" text-anchor="middle" font-size="27.7" font-weight="bold" textLength="148.9" lengthAdjust="spacingAndGlyphs">Age (years)</text>
<text transform="translate(796.4,1454.4) rotate(-90)" x="0" y="0" text-anchor="middle" font-size="27.7" font-weight="bold" textLength="395.2" lengthAdjust="spacingAndGlyphs">L H-reflex conduction velocity</text>
<text transform="translate(824.8,1456.6) rotate(-90)" x="0" y="0" text-anchor="middle" font-size="27.7" font-weight="bold" textLength="64.3" lengthAdjust="spacingAndGlyphs">(m/s)</text>
<text transform="translate(891.10,1246.30) scale(0.935,1)" font-size="42.8" font-weight="bold">F</text>
<rect x="1104.3" y="1434.3" width="177.8" height="37.3" fill="#fff" stroke="#8a8a8a" stroke-width="1.4"/>
<text x="1193.2" y="1463.6" text-anchor="middle" font-size="27.5" font-weight="bold" textLength="170.8" lengthAdjust="spacingAndGlyphs">y=82,76-0,2*x</text>
<g fill="#6a6a6a" stroke="#6a6a6a" stroke-width="1.15">
<text transform="translate(1277.40,1680.30) scale(0.9,1)" font-size="28.3">R</text>
<text x="1297.8" y="1669.7" font-size="21.5" stroke-width="0.75">2</text>
<text x="1321.5 1339.6 1348.7 1365.7 1380.9 1396.5 1414.5" y="1680.30" font-size="28">Linear=</text>
<text x="1437.9 1452.5 1460.5 1475.9 1491.3" y="1680.30" font-size="28">0,389</text>
</g>
</g>
<g id="pG">
<g fill="#767676" stroke="#5c5c5c" stroke-width="0.9">
<circle cx="114.4" cy="1836.9" r="4.1"/>
<circle cx="114.4" cy="1884.2" r="4.1"/>
<circle cx="114.4" cy="1979.2" r="4.1"/>
<circle cx="114.4" cy="2005.9" r="4.1"/>
<circle cx="114.4" cy="2025.5" r="4.1"/>
<circle cx="114.4" cy="2030.4" r="4.1"/>
<circle cx="114.4" cy="2035.8" r="4.1"/>
<circle cx="114.4" cy="2053.7" r="4.1"/>
<circle cx="114.4" cy="2056.4" r="4.1"/>
<circle cx="114.4" cy="2061.9" r="4.1"/>
<circle cx="114.4" cy="2064.6" r="4.1"/>
<circle cx="114.4" cy="2069.6" r="4.1"/>
<circle cx="114.4" cy="2093.4" r="4.1"/>
<circle cx="114.4" cy="2104.8" r="4.1"/>
<circle cx="114.4" cy="2109.8" r="4.1"/>
<circle cx="114.4" cy="2120.3" r="4.1"/>
<circle cx="114.4" cy="2137.6" r="4.1"/>
<circle cx="114.4" cy="2147.6" r="4.1"/>
<circle cx="114.4" cy="2152.2" r="4.1"/>
<circle cx="114.4" cy="2155.8" r="4.1"/>
<circle cx="114.4" cy="2160.4" r="4.1"/>
<circle cx="114.4" cy="2169.5" r="4.1"/>
<circle cx="114.4" cy="2176.8" r="4.1"/>
<circle cx="114.4" cy="2180.5" r="4.1"/>
<circle cx="114.4" cy="2185.0" r="4.1"/>
<circle cx="114.4" cy="2192.3" r="4.1"/>
<circle cx="114.4" cy="2211.5" r="4.1"/>
<circle cx="114.4" cy="2216.9" r="4.1"/>
<circle cx="702.4" cy="1839.3" r="4.1"/>
<circle cx="702.4" cy="1842.4" r="4.1"/>
<circle cx="702.4" cy="1855.2" r="4.1"/>
<circle cx="702.4" cy="1888.0" r="4.1"/>
<circle cx="702.4" cy="1891.2" r="4.1"/>
<circle cx="702.4" cy="1895.3" r="4.1"/>
<circle cx="702.4" cy="1909.5" r="4.1"/>
<circle cx="702.4" cy="1941.0" r="4.1"/>
<circle cx="702.4" cy="1964.7" r="4.1"/>
<circle cx="702.4" cy="1972.4" r="4.1"/>
<circle cx="702.4" cy="1980.2" r="4.1"/>
<circle cx="702.4" cy="1987.9" r="4.1"/>
<circle cx="702.4" cy="1991.6" r="4.1"/>
<circle cx="702.4" cy="2001.9" r="4.1"/>
<circle cx="702.4" cy="2006.0" r="4.1"/>
<circle cx="702.4" cy="2017.4" r="4.1"/>
<circle cx="702.4" cy="2021.0" r="4.1"/>
<circle cx="702.4" cy="2028.3" r="4.1"/>
<circle cx="702.4" cy="2034.7" r="4.1"/>
<circle cx="702.4" cy="2060.2" r="4.1"/>
<circle cx="702.4" cy="2064.8" r="4.1"/>
<circle cx="702.4" cy="2083.0" r="4.1"/>
<circle cx="702.4" cy="2087.6" r="4.1"/>
<circle cx="702.4" cy="2092.2" r="4.1"/>
<circle cx="702.4" cy="2101.3" r="4.1"/>
<circle cx="702.4" cy="2125.4" r="4.1"/>
<circle cx="702.4" cy="2143.7" r="4.1"/>
<circle cx="702.4" cy="2163.7" r="4.1"/>
<circle cx="702.4" cy="2169.2" r="4.1"/>
</g>
<path d="M81.9,2105.5 L734.7,2006" stroke="#000" stroke-width="1.45" fill="none"/>
<path d="M113.7,1920.0 Q408.4,1875.1 703.0,1830.1" stroke="#000" stroke-width="1.8" fill="none" stroke-dasharray="5.2 5.3"/>
<path d="M113.4,2281.5 Q408.1,2234.0 702.8,2190.8" stroke="#000" stroke-width="1.8" fill="none" stroke-dasharray="5.2 5.3"/>
<path d="M81.9,1813.8 L81.9,2286.8" stroke="#676767" stroke-width="1.55" fill="none"/>
<path d="M81.9,2286.8 L735.3,2286.8" stroke="#676767" stroke-width="1.55" fill="none"/>
<text x="75.5" y="1848.8" text-anchor="end" font-size="28.0">50</text>
<text x="75.5" y="1934.7" text-anchor="end" font-size="28.0">40</text>
<text x="75.5" y="2019.8" text-anchor="end" font-size="28.0">30</text>
<text x="75.5" y="2103.7" text-anchor="end" font-size="28.0">20</text>
<text x="75.5" y="2189.4" text-anchor="end" font-size="28.0">10</text>
<text x="75.5" y="2275.3" text-anchor="end" font-size="28.0">0</text>
<text x="114.8" y="2317.8" text-anchor="middle" font-size="28.0">,0</text>
<text x="233.4" y="2317.8" text-anchor="middle" font-size="28.0">,2</text>
<text x="350.2" y="2317.8" text-anchor="middle" font-size="28.0">,4</text>
<text x="467.9" y="2317.8" text-anchor="middle" font-size="28.0">,6</text>
<text x="585.5" y="2317.8" text-anchor="middle" font-size="28.0">,8</text>
<text x="702.8" y="2317.8" text-anchor="middle" font-size="28.0">1,0</text>
<text x="409.2" y="2363.0" text-anchor="middle" font-size="27.7" font-weight="bold" textLength="96.4" lengthAdjust="spacingAndGlyphs">Gender</text>
<text transform="translate(24.6,2050.5) rotate(-90)" x="0" y="0" text-anchor="middle" font-size="27.7" font-weight="bold" textLength="300.0" lengthAdjust="spacingAndGlyphs">R Hmax/Mmax ratio (%)</text>
<text x="88.9" y="2354.5" text-anchor="start" font-size="27.7" font-weight="bold" textLength="53.0" lengthAdjust="spacingAndGlyphs">Men</text>
<text x="737.6" y="2343.4" text-anchor="end" font-size="27.7" font-weight="bold" textLength="94.6" lengthAdjust="spacingAndGlyphs">Women</text>
<text transform="translate(89.40,1839.90) scale(0.935,1)" font-size="42.8" font-weight="bold">G</text>
<rect x="300.9" y="2036.3" width="214.7" height="38.4" fill="#fff" stroke="#8a8a8a" stroke-width="1.4"/>
<text x="408.2" y="2065.6" text-anchor="middle" font-size="27.5" font-weight="bold" textLength="207.7" lengthAdjust="spacingAndGlyphs">y=19,07+10,55*x</text>
<g fill="#6a6a6a" stroke="#6a6a6a" stroke-width="1.15">
<text transform="translate(506.60,2274.40) scale(0.9,1)" font-size="28.3">R</text>
<text x="527.0" y="2263.8" font-size="21.5" stroke-width="0.75">2</text>
<text x="550.7 568.8 577.9 594.9 610.1 625.7 643.7" y="2274.40" font-size="28">Linear=</text>
<text x="667.1 681.7 689.7 705.1 720.5" y="2274.40" font-size="28">0,205</text>
</g>
</g>
<g id="pH">
<g fill="#767676" stroke="#5c5c5c" stroke-width="0.9">
<circle cx="886.5" cy="1902.8" r="4.1"/>
<circle cx="886.5" cy="1977.6" r="4.1"/>
<circle cx="886.5" cy="1987.0" r="4.1"/>
<circle cx="886.5" cy="2007.5" r="4.1"/>
<circle cx="886.5" cy="2035.3" r="4.1"/>
<circle cx="886.5" cy="2040.1" r="4.1"/>
<circle cx="886.5" cy="2044.0" r="4.1"/>
<circle cx="886.5" cy="2048.2" r="4.1"/>
<circle cx="886.5" cy="2052.3" r="4.1"/>
<circle cx="886.5" cy="2062.8" r="4.1"/>
<circle cx="886.5" cy="2075.6" r="4.1"/>
<circle cx="886.5" cy="2086.1" r="4.1"/>
<circle cx="886.5" cy="2102.8" r="4.1"/>
<circle cx="886.5" cy="2111.1" r="4.1"/>
<circle cx="886.5" cy="2120.7" r="4.1"/>
<circle cx="886.5" cy="2124.8" r="4.1"/>
<circle cx="886.5" cy="2134.9" r="4.1"/>
<circle cx="886.5" cy="2139.4" r="4.1"/>
<circle cx="886.5" cy="2149.9" r="4.1"/>
<circle cx="886.5" cy="2153.6" r="4.1"/>
<circle cx="886.5" cy="2169.5" r="4.1"/>
<circle cx="886.5" cy="2175.0" r="4.1"/>
<circle cx="886.5" cy="2189.6" r="4.1"/>
<circle cx="886.5" cy="2195.1" r="4.1"/>
<circle cx="886.5" cy="2198.7" r="4.1"/>
<circle cx="886.5" cy="2209.6" r="4.1"/>
<circle cx="886.5" cy="2221.5" r="4.1"/>
<circle cx="886.5" cy="2223.3" r="4.1"/>
<circle cx="1480.3" cy="1854.5" r="4.1"/>
<circle cx="1480.3" cy="1860.4" r="4.1"/>
<circle cx="1480.3" cy="1905.2" r="4.1"/>
<circle cx="1480.3" cy="1908.6" r="4.1"/>
<circle cx="1480.3" cy="1939.9" r="4.1"/>
<circle cx="1480.3" cy="1961.8" r="4.1"/>
<circle cx="1480.3" cy="1966.9" r="4.1"/>
<circle cx="1480.3" cy="1978.7" r="4.1"/>
<circle cx="1480.3" cy="1984.7" r="4.1"/>
<circle cx="1480.3" cy="1990.6" r="4.1"/>
<circle cx="1480.3" cy="1995.6" r="4.1"/>
<circle cx="1480.3" cy="2001.6" r="4.1"/>
<circle cx="1480.3" cy="2014.2" r="4.1"/>
<circle cx="1480.3" cy="2021.0" r="4.1"/>
<circle cx="1480.3" cy="2027.8" r="4.1"/>
<circle cx="1480.3" cy="2031.0" r="4.1"/>
<circle cx="1480.3" cy="2037.7" r="4.1"/>
<circle cx="1480.3" cy="2044.5" r="4.1"/>
<circle cx="1480.3" cy="2052.1" r="4.1"/>
<circle cx="1480.3" cy="2074.9" r="4.1"/>
<circle cx="1480.3" cy="2089.3" r="4.1"/>
<circle cx="1480.3" cy="2097.7" r="4.1"/>
<circle cx="1480.3" cy="2129.0" r="4.1"/>
<circle cx="1480.3" cy="2133.2" r="4.1"/>
<circle cx="1480.3" cy="2158.2" r="4.1"/>
<circle cx="1480.3" cy="2173.0" r="4.1"/>
<circle cx="1480.3" cy="2176.3" r="4.1"/>
<circle cx="1480.3" cy="2191.6" r="4.1"/>
</g>
<path d="M853.9,2120.1 L1513.1,2023.5" stroke="#000" stroke-width="1.45" fill="none"/>
<path d="M885.5,1945.8 Q1180.5,1904.1 1475.6,1859.7" stroke="#000" stroke-width="1.8" fill="none" stroke-dasharray="5.2 5.3"/>
<path d="M886.5,2285.2 Q1180.5,2238.9 1474.6,2197.0" stroke="#000" stroke-width="1.8" fill="none" stroke-dasharray="5.2 5.3"/>
<path d="M853.9,1813.8 L853.9,2286.8" stroke="#676767" stroke-width="1.55" fill="none"/>
<path d="M853.9,2286.8 L1513.3,2286.8" stroke="#676767" stroke-width="1.55" fill="none"/>
<text x="847.8" y="1848.8" text-anchor="end" font-size="28.0">50</text>
<text x="847.8" y="1934.7" text-anchor="end" font-size="28.0">40</text>
<text x="847.8" y="2018.8" text-anchor="end" font-size="28.0">30</text>
<text x="847.8" y="2103.7" text-anchor="end" font-size="28.0">20</text>
<text x="847.8" y="2189.4" text-anchor="end" font-size="28.0">10</text>
<text x="847.8" y="2275.3" text-anchor="end" font-size="28.0">0</text>
<text x="887.3" y="2317.8" text-anchor="middle" font-size="28.0">,0</text>
<text x="1005.9" y="2317.8" text-anchor="middle" font-size="28.0">,2</text>
<text x="1124.3" y="2317.8" text-anchor="middle" font-size="28.0">,4</text>
<text x="1242.9" y="2317.8" text-anchor="middle" font-size="28.0">,6</text>
<text x="1361.7" y="2317.8" text-anchor="middle" font-size="28.0">,8</text>
<text x="1480.3" y="2317.8" text-anchor="middle" font-size="28.0">1,0</text>
<text x="1183.5" y="2363.0" text-anchor="middle" font-size="27.7" font-weight="bold" textLength="96.4" lengthAdjust="spacingAndGlyphs">Gender</text>
<text transform="translate(797.0,2050.4) rotate(-90)" x="0" y="0" text-anchor="middle" font-size="27.7" font-weight="bold" textLength="298.0" lengthAdjust="spacingAndGlyphs">L Hmax/Mmax ratio (%)</text>
<text x="863.8" y="2354.5" text-anchor="start" font-size="27.7" font-weight="bold" textLength="51.8" lengthAdjust="spacingAndGlyphs">Men</text>
<text x="1535.3" y="2354.5" text-anchor="end" font-size="27.7" font-weight="bold" textLength="95.6" lengthAdjust="spacingAndGlyphs">Women</text>
<text transform="translate(860.27,1840.00) scale(0.945,1)" font-size="42.8" font-weight="bold">H</text>
<rect x="1075.9" y="2052.3" width="214.7" height="38.4" fill="#fff" stroke="#8a8a8a" stroke-width="1.4"/>
<text x="1183.2" y="2081.6" text-anchor="middle" font-size="27.5" font-weight="bold" textLength="207.7" lengthAdjust="spacingAndGlyphs">y=17,35+10,21*x</text>
<g fill="#6a6a6a" stroke="#6a6a6a" stroke-width="1.15">
<text transform="translate(1282.40,2272.40) scale(0.9,1)" font-size="28.3">R</text>
<text x="1302.8" y="2261.8" font-size="21.5" stroke-width="0.75">2</text>
<text x="1326.5 1344.6 1353.7 1370.7 1385.9 1401.5 1419.5" y="2272.40" font-size="28">Linear=</text>
<text x="1442.9 1457.5 1465.5 1480.9 1496.3" y="2272.40" font-size="28">0,215</text>
</g>
</g>
<svg x="820" y="1600" width="47.3" height="90" overflow="hidden"><text x="24.9" y="80.9" font-size="28">55</text></svg>
<svg x="867" y="1600" width="12" height="50" overflow="hidden"><text x="7.0" y="36.9" text-anchor="end" font-size="28">55</text></svg>
<path d="M880.8,1649.5 L893.9,1649.5" stroke="#676767" stroke-width="1.55" fill="none"/>
</svg>
</body></html>
